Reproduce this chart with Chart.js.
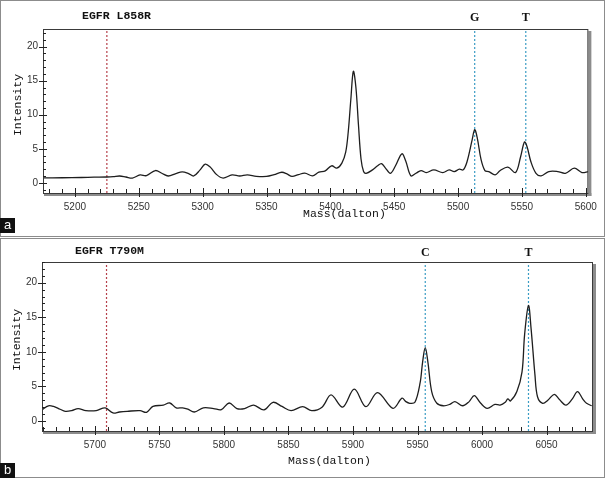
<!DOCTYPE html>
<html>
<head>
<meta charset="utf-8">
<script src="https://cdn.jsdelivr.net/npm/chart.js@4.4.1/dist/chart.umd.min.js"></script>
<style>
  body { margin: 0; background: #fff; }
  .wrap { position: relative; width: 605px; height: 478px; overflow: hidden; font-family: "Liberation Mono", monospace; color: #111; }
  .panel { position: absolute; left: 0; width: 603px; border: 1px solid #8c8c8c; }
  canvas { position: absolute; left: 0; }
  .txt { position: absolute; white-space: nowrap; line-height: 14px; font-size: 11.5px; }
  .ttl { font-weight: bold; }
  .ylab { transform: translate(-50%, -50%) rotate(-90deg); }
  .tag { position: absolute; left: 0; width: 15px; height: 15px; background: #111; color: #fff;
         font: 13px "Liberation Sans", sans-serif; line-height: 14px; text-align: center; }
</style>
</head>
<body>
<div class="wrap">
  <div class="panel" style="top:0;height:235px"></div>
  <div class="panel" style="top:238px;height:238px"></div>
  <canvas id="specA" width="605" height="237" style="top:0"></canvas>
  <canvas id="specB" width="605" height="240" style="top:238px"></canvas>

  <div class="txt ttl" style="left:82px;top:9px">EGFR L858R</div>
  <div class="txt ylab" style="left:18px;top:105px">Intensity</div>
  <div class="txt" style="left:303px;top:207px">Mass(dalton)</div>
  <div class="tag" style="top:218px">a</div>

  <div class="txt ttl" style="left:75px;top:244px">EGFR T790M</div>
  <div class="txt ylab" style="left:17px;top:340px">Intensity</div>
  <div class="txt" style="left:288px;top:454px">Mass(dalton)</div>
  <div class="tag" style="top:463px">b</div>
</div>
<script>
// panel a - EGFR L858R
var massA = [5175, 5190, 5205, 5215, 5225, 5230, 5235, 5240, 5245, 5251, 5256, 5263, 5268, 5273, 5279,
  5284, 5289, 5293, 5298, 5302, 5306, 5311, 5316, 5323, 5329, 5335, 5342, 5350, 5356, 5362, 5366,
  5370, 5375, 5380, 5386, 5391, 5396, 5401, 5405, 5409, 5412, 5414, 5416, 5418, 5420, 5422, 5424,
  5426, 5428, 5433, 5437, 5440, 5443, 5447, 5451, 5456, 5459, 5463, 5467, 5471, 5475, 5481, 5488,
  5493, 5497, 5501, 5504, 5507, 5511, 5513, 5515, 5518, 5521, 5524, 5529, 5533, 5539, 5545, 5549,
  5552, 5554, 5557, 5561, 5565, 5571, 5578, 5584, 5591, 5597, 5602];
var intensityA = [0.72, 0.74, 0.78, 0.82, 0.85, 0.9, 1.0, 0.85, 0.7, 1.15, 1.05, 1.8, 1.4, 1.0, 1.35,
  1.6, 1.35, 1.0, 1.9, 2.75, 2.3, 1.2, 0.7, 1.15, 1.0, 1.15, 0.95, 0.93, 1.2, 1.55, 1.3,
  0.93, 1.2, 1.42, 1.03, 1.57, 1.76, 2.5, 2.15, 2.9, 4.5, 7.5, 12.2, 16.4, 14.0, 8.5, 3.5,
  1.67, 1.4, 1.9, 2.5, 2.8, 2.2, 1.4, 2.5, 4.26, 3.2, 1.03, 1.4, 1.8, 1.5, 1.9, 1.5,
  1.9, 1.65, 2.0, 1.9, 3.1, 6.3, 7.8, 6.6, 3.4, 1.8, 1.65, 1.17, 1.8, 2.3, 1.5, 3.87,
  6.0, 5.3, 3.1, 1.4, 1.03, 1.65, 1.65, 1.4, 2.15, 1.5, 1.65];
var markersA = [5225, 5513, 5553];
var markerTextA = ['', 'G', 'T'];
var xTicksA = [5200, 5250, 5300, 5350, 5400, 5450, 5500, 5550, 5600];

// panel b - EGFR T790M
var massB = [5659, 5664, 5668, 5673, 5677, 5682, 5687, 5693, 5701, 5708, 5714, 5719, 5725, 5735, 5740,
  5745, 5753, 5758, 5763, 5768, 5772, 5777, 5784, 5792, 5798, 5804, 5810, 5816, 5823, 5831, 5838,
  5845, 5852, 5861, 5868, 5876, 5883, 5892, 5901, 5910, 5919, 5931, 5938, 5941, 5944, 5948, 5952,
  5954, 5956, 5958, 5961, 5965, 5970, 5975, 5979, 5985, 5990, 5994, 5999, 6004, 6010, 6014, 6018,
  6020, 6022, 6027, 6031, 6033, 6036, 6038, 6041, 6043, 6047, 6051, 6056, 6060, 6065, 6070, 6074,
  6078, 6081, 6085];
var intensityB = [1.64, 2.2, 2.1, 1.7, 1.4, 1.5, 1.8, 1.5, 1.5, 1.9, 1.16, 1.3, 1.4, 1.5, 1.26,
  2.1, 2.3, 2.6, 1.9, 1.9, 1.7, 1.3, 1.9, 1.8, 1.64, 2.6, 1.8, 1.8, 2.3, 1.6, 2.7,
  2.1, 1.5, 2.07, 1.5, 2.0, 3.77, 2.0, 4.6, 2.07, 4.1, 1.83, 3.3, 2.8, 2.56, 2.7, 5.5,
  8.6, 10.6, 8.6, 4.25, 2.56, 2.2, 2.4, 2.8, 2.2, 2.8, 3.67, 2.56, 1.83, 2.4, 2.3, 2.7,
  3.2, 2.9, 4.25, 7.1, 12.5, 16.7, 13.4, 6.7, 3.5, 2.56, 3.0, 3.86, 3.1, 2.3, 3.2, 4.25,
  3.2, 2.56, 2.2];
var markersB = [5709, 5956, 6036];
var markerTextB = ['', 'C', 'T'];
var xTicksB = [5700, 5750, 5800, 5850, 5900, 5950, 6000, 6050];

var yTicks = [0, 5, 10, 15, 20];
var markerColors = ['#b5404a', '#3a9cc4', '#3a9cc4'];

// frame with shadow, inward minor ticks, marker letters
var framePlugin = {
  id: 'frame',
  afterDraw: function(chart) {
    var c = chart.ctx, a = chart.chartArea;
    var xs = chart.scales.x, ys = chart.scales.y;
    var opt = chart.options.plugins.frame;
    c.save();
    c.fillStyle = '#8c8c8c';
    c.fillRect(a.right, a.top + 2, 3, a.bottom - a.top + 1);
    c.fillRect(a.left + 1, a.bottom, a.right - a.left + 2, 3);
    c.strokeStyle = '#3a3a3a';
    c.lineWidth = 1;
    c.strokeRect(a.left + 0.5, a.top + 0.5, a.right - a.left - 1, a.bottom - a.top);

    c.beginPath();
    for (var v = Math.ceil(xs.min / 10) * 10; v <= xs.max; v += 10) {
      var px = Math.round(xs.getPixelForValue(v)) + 0.5;
      if (v % 50 === 0) {
        c.moveTo(px, a.bottom - 5); c.lineTo(px, a.bottom + 4);
      } else {
        c.moveTo(px, a.bottom - 4); c.lineTo(px, a.bottom);
      }
    }
    c.strokeStyle = '#222';
    c.stroke();
    c.beginPath();
    for (var w = Math.ceil(ys.min); w <= ys.max; w++) {
      var py = Math.round(ys.getPixelForValue(w)) + 0.5;
      if (w % 5 === 0) {
        c.moveTo(a.left - 4, py); c.lineTo(a.left + 4, py);
      } else {
        c.moveTo(a.left, py); c.lineTo(a.left + 3, py);
      }
    }
    c.stroke();

    c.fillStyle = '#111';
    c.font = 'bold 12px "Liberation Serif", serif';
    c.textAlign = 'center';
    c.textBaseline = 'middle';
    opt.markers.forEach(function(m, i) {
      if (opt.text[i]) c.fillText(opt.text[i], xs.getPixelForValue(m), a.top - opt.gap);
    });
    c.restore();
  }
};

function drawSpectrum(id, mass, vals, markers, text, xTicks, xMin, xMax, yMin, yMax, area) {
  var sets = [{
    data: mass.map(function(m, i) { return { x: m, y: vals[i] }; }),
    borderColor: '#1e1e1e',
    borderWidth: 1.3,
    pointRadius: 0,
    tension: 0.35
  }];
  markers.forEach(function(m, i) {
    sets.push({
      data: [{ x: m, y: yMin }, { x: m, y: yMax }],
      borderColor: markerColors[i],
      borderWidth: 1.2,
      borderDash: [2, 2],
      pointRadius: 0
    });
  });
  var tickFont = { family: '"Liberation Sans", sans-serif', size: 10 };
  var plain = function(v) { return String(v); };
  return new Chart(document.getElementById(id).getContext('2d'), {
    type: 'line',
    data: { datasets: sets },
    options: {
      responsive: false,
      animation: false,
      events: [],
      layout: { padding: { top: area.top, right: area.right, left: 0, bottom: 0 } },
      plugins: {
        legend: { display: false },
        tooltip: { enabled: false },
        frame: { markers: markers, text: text, gap: area.gap }
      },
      scales: {
        x: {
          type: 'linear', min: xMin, max: xMax,
          grid: { display: false, drawTicks: false },
          border: { display: false },
          ticks: { font: tickFont, color: '#333', padding: 8, maxRotation: 0, autoSkip: false, callback: plain },
          afterBuildTicks: function(s) { s.ticks = xTicks.map(function(v) { return { value: v }; }); },
          afterFit: function(s) { s.height = area.xh; }
        },
        y: {
          min: yMin, max: yMax,
          grid: { display: false, drawTicks: false },
          border: { display: false },
          ticks: { font: tickFont, color: '#333', padding: 5, callback: plain },
          afterBuildTicks: function(s) { s.ticks = yTicks.map(function(v) { return { value: v }; }); },
          afterFit: function(s) { s.width = area.left; }
        }
      }
    },
    plugins: [framePlugin]
  });
}

drawSpectrum('specA', massA, intensityA, markersA, markerTextA, xTicksA, 5175, 5602, -1.5, 22.6,
  { top: 29, right: 14, left: 43, xh: 44, gap: 11 });
drawSpectrum('specB', massB, intensityB, markersB, markerTextB, xTicksB, 5659, 6086, -1.45, 23.0,
  { top: 24, right: 12, left: 42, xh: 47, gap: 9 });
</script>
</body>
</html>
